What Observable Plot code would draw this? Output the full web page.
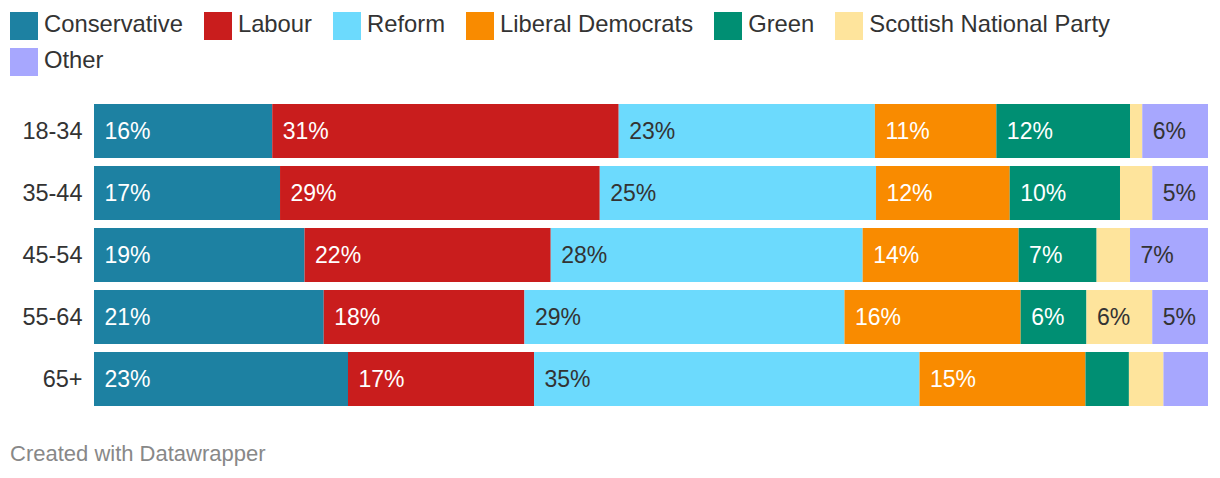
<!DOCTYPE html>
<html>
<head>
<meta charset="utf-8">
<script src="https://cdn.jsdelivr.net/npm/d3@7"></script>
<script src="https://cdn.jsdelivr.net/npm/@observablehq/plot@0.6"></script>
<style>
  html, body { margin: 0; padding: 0; background: #fff; }
  body { width: 1220px; height: 478px; position: relative; overflow: hidden;
         font-family: "Liberation Sans", Arial, Helvetica, sans-serif; color: #333; }
  #legend { position: absolute; left: 10px; top: 12px; width: 1150px;
            display: flex; flex-wrap: wrap; column-gap: 21px; row-gap: 8px; }
  .item { display: flex; align-items: center; font-size: 23.8px; line-height: 28px; }
  .item span { position: relative; top: -2px; }
  .sw { width: 28px; height: 28px; margin-right: 6px; }
  #chart { position: absolute; left: 0; top: 90px; }
  #footer { position: absolute; left: 10px; top: 441px; font-size: 22px; color: #888; }
</style>
</head>
<body>
<div id="legend"></div>
<div id="chart"></div>
<div id="footer">Created with Datawrapper</div>
<script>
const ages = ["18-34", "35-44", "45-54", "55-64", "65+"];
const parties = ["Conservative", "Labour", "Reform", "Liberal Democrats", "Green", "Scottish National Party", "Other"];
const colors = ["#1d81a2", "#c91d1d", "#6cdafd", "#f98b00", "#008f73", "#fee49c", "#a7a7fe"];

const conservative = [16.0, 16.7, 18.9, 20.6, 22.8];
const labour       = [31.1, 28.7, 22.1, 18.0, 16.7];
const reform       = [23.0, 24.8, 28.0, 28.7, 34.6];
const libdem       = [10.9, 12.0, 14.0, 15.8, 14.9];
const green        = [12.0,  9.9,  7.0,  5.9,  3.9];
const snp          = [ 1.1,  2.9,  3.0,  5.9,  3.1];
const other        = [ 5.9,  5.0,  7.0,  5.0,  4.0];

const series = [conservative, labour, reform, libdem, green, snp, other];
const darkText = new Set(["Reform", "Scottish National Party", "Other"]);

const rows = [];
ages.forEach((age, i) => {
  parties.forEach((party, j) => {
    rows.push({age, party, value: series[j][i]});
  });
});

// legend
const legend = document.getElementById("legend");
parties.forEach((p, i) => {
  const it = document.createElement("div");
  it.className = "item";
  const sw = document.createElement("div");
  sw.className = "sw";
  sw.style.background = colors[i];
  const t = document.createElement("span");
  t.textContent = p;
  it.appendChild(sw); it.appendChild(t);
  legend.appendChild(it);
});

const fmt = d => Math.round(d.value) >= 5 ? Math.round(d.value) + "%" : "";

const plot = Plot.plot({
  width: 1220,
  height: 330,
  marginTop: 14,
  marginBottom: 14,
  marginLeft: 94,
  marginRight: 12,
  style: {fontSize: "23.5px", fontFamily: "'Liberation Sans', Arial, Helvetica, sans-serif", color: "#333", background: "#fff"},
  x: {axis: null, domain: [0, 1]},
  y: {domain: ages, paddingInner: 8 / 62, paddingOuter: 0, label: null, tickSize: 0, tickPadding: 12},
  color: {domain: parties, range: colors},
  marks: [
    Plot.barX(rows, Plot.stackX({x: "value", y: "age", fill: "party", z: "party", order: parties, offset: "normalize"})),
    Plot.text(rows, Plot.stackX1({x: "value", y: "age", z: "party", order: parties, offset: "normalize",
      text: d => darkText.has(d.party) ? "" : fmt(d), fill: "#fff", textAnchor: "start", dx: 10, fontSize: 23})),
    Plot.text(rows, Plot.stackX1({x: "value", y: "age", z: "party", order: parties, offset: "normalize",
      text: d => darkText.has(d.party) ? fmt(d) : "", fill: "#333", textAnchor: "start", dx: 10, fontSize: 23}))
  ]
});
document.getElementById("chart").appendChild(plot);
</script>
</body>
</html>
